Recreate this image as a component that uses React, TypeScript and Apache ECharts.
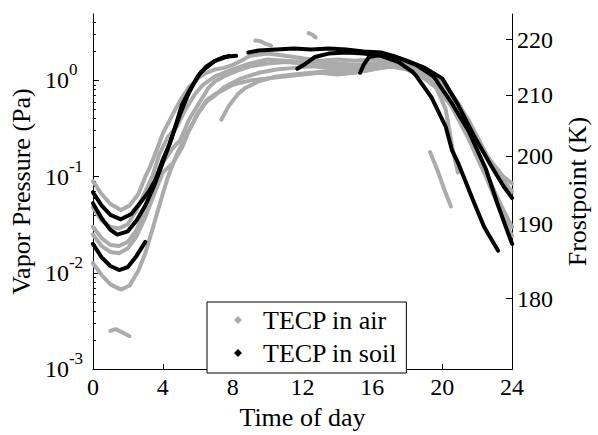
import React, { useEffect, useRef } from "react";
import * as echarts from "echarts";

type Pt = [number, number];

// ---- axes / tick labels ----
const hourMin = 0;
const hourMax = 24;
const hourStep = 4;
const pressureMin = 0.001;
const pressureMax = 4.9;
const pressureTicks = [0.001, 0.01, 0.1, 1];
const minorMultipliers = [2, 3, 4, 5, 6, 7, 8, 9];
const minorDecades = [0.001, 0.01, 0.1, 1];
const frostTicks = [180, 190, 200, 210, 220];

const airName = "TECP in air";
const soilName = "TECP in soil";

// ---- TECP in air (grey), [hour, Pa] ----
const air1: Pt[] = [
  [0, 0.09], [0.5, 0.066], [1, 0.052], [1.6, 0.045], [2.1, 0.05], [2.6, 0.066], [3, 0.1], [3.3, 0.13],
  [3.7, 0.2], [4, 0.28], [4.5, 0.42], [5, 0.62], [5.5, 0.85], [6, 1.05], [6.5, 1.2], [7, 1.3], [7.5, 1.35],
  [8, 1.45], [8.5, 1.6], [9, 1.8], [10, 1.9], [11, 1.8], [12, 1.7], [13, 1.6], [14, 1.5], [15, 1.45],
  [16, 1.5], [17, 1.55], [17.6, 1.5], [18.3, 1.35], [19, 1.15], [20, 0.98], [20.8, 0.6], [21.5, 0.39],
  [22.6, 0.16], [23.5, 0.1], [24, 0.085],
];
const air2: Pt[] = [
  [0, 0.03], [0.5, 0.023], [1, 0.0195], [1.5, 0.019], [2, 0.021], [2.5, 0.028], [3, 0.045], [3.5, 0.08],
  [4, 0.14], [4.6, 0.2], [5, 0.24], [5.5, 0.39], [6, 0.55], [6.6, 0.83], [7, 0.98], [7.5, 1.1], [8.2, 1.25],
  [9, 1.4], [10, 1.5], [11, 1.55], [12, 1.5], [13, 1.6], [14, 1.65], [15, 1.6], [16, 1.65], [17, 1.7],
  [18, 1.55], [18.8, 1.25], [19.6, 0.89], [20.2, 0.5], [20.6, 0.19], [20.9, 0.11],
];
const air3: Pt[] = [
  [0, 0.025], [0.5, 0.019], [1, 0.0165], [1.5, 0.016], [2, 0.018], [2.5, 0.024], [3, 0.038], [3.5, 0.065],
  [4, 0.11], [4.6, 0.14], [5.1, 0.2], [5.5, 0.3], [6, 0.45], [6.5, 0.62], [7, 0.72], [7.5, 0.8], [8, 0.9],
  [9, 1.0], [10, 1.05], [11, 1.1], [12, 1.15], [13, 1.2], [14, 1.15], [15, 1.2], [16, 1.3], [17, 1.4],
  [18, 1.3], [19, 1.05], [20, 0.75], [21, 0.4], [22, 0.18], [23, 0.07], [23.5, 0.045], [24, 0.03],
];
const air4: Pt[] = [
  [0, 0.0126], [0.5, 0.0095], [1, 0.0076], [1.6, 0.0067], [2.1, 0.0074], [2.6, 0.0105], [3, 0.016],
  [3.4, 0.028], [3.8, 0.05], [4.3, 0.1], [4.8, 0.17], [5.3, 0.26], [6, 0.45], [6.5, 0.6], [7, 0.7],
  [7.5, 0.85], [8.5, 1.05], [9.5, 1.2], [10.5, 1.3], [11.5, 1.35], [12.5, 1.4], [13.5, 1.35], [14.5, 1.3],
  [15.5, 1.35], [16.5, 1.45], [17.5, 1.5], [18.3, 1.35], [19, 1.15],
];
const air5: Pt[] = [
  [7.35, 0.39], [7.8, 0.55], [8.3, 0.72], [8.7, 0.83], [9.5, 0.98], [10.5, 1.1], [11.5, 1.15], [12.5, 1.2],
  [13.5, 1.25], [14.5, 1.2], [15.5, 1.25], [16.5, 1.35], [17.5, 1.4], [18.5, 1.2], [19.5, 0.9], [20.5, 0.55],
  [21.5, 0.25], [22.5, 0.1], [23.3, 0.045], [24, 0.024],
];
const air6: Pt[] = [
  [0, 0.048], [0.5, 0.035], [1, 0.03], [1.5, 0.029], [2, 0.032], [2.5, 0.045], [3, 0.07], [3.4, 0.1],
  [3.8, 0.17], [4.3, 0.26], [4.8, 0.33], [5.3, 0.5], [5.8, 0.7], [6.3, 0.9], [7, 1.1], [8, 1.3], [9, 1.5],
  [10, 1.65], [11, 1.6], [12, 1.55], [13, 1.5], [14, 1.4], [15, 1.35], [16, 1.45], [17, 1.6], [17.8, 1.55],
  [18.5, 1.4], [19.3, 1.25], [20, 1.0], [21, 0.55], [22, 0.25], [23, 0.12], [24, 0.07],
];
const air7: Pt[] = [[1, 0.0025], [1.3, 0.0026], [1.7, 0.0024], [2.1, 0.0022]];
const air8: Pt[] = [[19.3, 0.18], [19.7, 0.12], [20.1, 0.075], [20.5, 0.049]];
const air9: Pt[] = [[9.3, 2.6], [9.6, 2.55], [9.9, 2.4], [10.2, 2.3]];
const air10: Pt[] = [[12.35, 3.1], [12.55, 3.0], [12.75, 2.8]];

// ---- TECP in soil (black), [hour, Pa] ----
const soil1a: Pt[] = [
  [0, 0.069], [0.5, 0.05], [1, 0.04], [1.6, 0.036], [2.2, 0.041], [2.8, 0.056], [3.2, 0.07], [3.56, 0.091],
  [4, 0.15], [4.4, 0.22], [4.8, 0.37], [5.1, 0.56], [5.6, 0.83], [6.2, 1.23], [7, 1.6], [7.5, 1.75], [8.2, 1.8],
];
const soil1b: Pt[] = [
  [8.9, 1.95], [9.5, 2.05], [10.5, 2.1], [11.5, 2.15], [12.5, 2.1], [13.5, 2.15], [14.5, 2.1], [15.5, 2.0],
  [16.5, 1.95], [17.2, 1.8], [18, 1.6], [19, 1.35], [20, 1.05], [20.9, 0.56], [21.8, 0.27], [22.8, 0.13],
  [23.5, 0.08], [24, 0.06],
];
const soil2a: Pt[] = [
  [0, 0.053], [0.5, 0.037], [1, 0.028], [1.4, 0.025], [2, 0.027], [2.5, 0.035], [3, 0.05], [3.5, 0.08],
  [4, 0.14], [4.5, 0.25], [5, 0.45], [5.5, 0.75], [6, 1.1], [6.5, 1.4], [7, 1.6], [7.8, 1.8],
];
const soil2b: Pt[] = [
  [11.7, 1.32], [12.2, 1.5], [12.7, 1.75], [13.5, 1.9], [14.5, 1.95], [15.5, 1.9], [16.5, 1.8], [17.5, 1.55],
  [18.3, 1.23], [18.5, 1.12], [19.4, 0.66], [20.2, 0.33], [20.55, 0.19], [20.9, 0.14], [21.8, 0.055],
  [22.4, 0.03], [23.2, 0.017],
];
const soil3: Pt[] = [
  [0, 0.02], [0.5, 0.0145], [1, 0.0118], [1.5, 0.0107], [2, 0.0115], [2.5, 0.015], [3, 0.021],
];
const soil4: Pt[] = [
  [15.3, 1.2], [15.5, 1.45], [15.8, 1.75], [16.5, 1.85], [17.5, 1.7], [18.5, 1.45], [19.5, 1.1], [20.5, 0.6],
  [21.5, 0.3], [22.5, 0.12], [23.2, 0.05], [23.7, 0.028], [24, 0.02],
];

const airCurves = [air1, air2, air3, air4, air5, air6, air7, air8, air9, air10];
const soilCurves = [soil1a, soil1b, soil2a, soil2b, soil3, soil4];

const FONT = "Liberation Serif";
const GREY = "#ababab";
const BLACK = "#000000";

// saturation vapour pressure over ice (Murphy & Koop 2005), Pa — used to place frostpoint ticks
function icePressure(T: number): number {
  return Math.exp(9.550426 - 5723.265 / T + 3.53068 * Math.log(T) - 0.00728332 * T);
}

export default function App() {
  const ref = useRef<HTMLDivElement>(null);
  useEffect(() => {
    document.body.style.margin = "0";
    if (!ref.current) return;
    const chart = echarts.init(ref.current, undefined, { renderer: "svg" });
    const minorTicks: number[] = [];
    minorDecades.forEach((d) =>
      minorMultipliers.forEach((m) => {
        const v = m * d;
        if (v <= pressureMax) minorTicks.push(v);
      })
    );
    const frostPressures = frostTicks.map((t) => icePressure(t));
    const frostLabel = (v: number) => {
      let best = 0;
      let bestD = Infinity;
      frostPressures.forEach((p, i) => {
        const d = Math.abs(Math.log(p) - Math.log(v));
        if (d < bestD) {
          bestD = d;
          best = i;
        }
      });
      return String(frostTicks[best]);
    };

    const mkSeries = (name: string, color: string, curves: Pt[][], width: number) =>
      curves.map((c) => ({
        name,
        type: "line",
        xAxisIndex: 0,
        yAxisIndex: 0,
        data: c,
        symbol: "none",
        color,
        itemStyle: { color },
        lineStyle: { color, width, cap: "round", join: "round" },
        silent: true,
      }));

    const txt = { fontFamily: FONT, color: "#000" };

    chart.setOption({
      animation: false,
      grid: { left: 91, right: 76, top: 14, bottom: 56 },
      legend: {
        left: 207,
        top: 302,
        orient: "vertical",
        padding: [5, 9, 7, 27],
        itemWidth: 8,
        itemHeight: 8,
        itemGap: 7,
        icon: "diamond",
        borderColor: "#000",
        borderWidth: 1,
        borderRadius: 0,
        backgroundColor: "#ffffff",
        textStyle: { ...txt, fontSize: 26, lineHeight: 26, padding: [0, 0, 0, 16] },
        data: [airName, soilName],
      },
      xAxis: {
        type: "value",
        min: hourMin,
        max: hourMax,
        interval: hourStep,
        axisLine: { show: true, lineStyle: { color: "#000", width: 1 } },
        axisTick: { show: true, inside: true, length: 5, lineStyle: { color: "#000" } },
        axisLabel: { ...txt, fontSize: 24, margin: 6 },
        splitLine: { show: false },
        name: "Time of day",
        nameLocation: "middle",
        nameGap: 30,
        nameTextStyle: { ...txt, fontSize: 26 },
      },
      yAxis: [
        {
          type: "log",
          logBase: 10,
          min: pressureMin,
          max: pressureMax,
          position: "left",
          axisLine: { show: true, lineStyle: { color: "#000", width: 1 } },
          axisTick: { show: true, inside: true, length: 6, customValues: pressureTicks, lineStyle: { color: "#000" } },
          axisLabel: {
            ...txt,
            fontSize: 24,
            customValues: pressureTicks,
            margin: 48,
            align: "left",
            formatter: (v: number) => "{b|10}{s|" + Math.round(Math.log10(v)) + "}",
            rich: {
              b: { ...txt, fontSize: 24, lineHeight: 38 },
              s: { ...txt, fontSize: 17, lineHeight: 16, verticalAlign: "top" },
            },
          },
          splitLine: { show: false },
          name: "Vapor Pressure (Pa)",
          nameLocation: "middle",
          nameRotate: 90,
          nameGap: 57,
          nameTextStyle: { ...txt, fontSize: 26 },
        },
        {
          type: "log",
          logBase: 10,
          min: pressureMin,
          max: pressureMax,
          position: "left",
          axisLine: { show: false },
          axisTick: { show: true, inside: true, length: 3, customValues: minorTicks, lineStyle: { color: "#000" } },
          axisLabel: { show: false },
          splitLine: { show: false },
        },
        {
          type: "log",
          logBase: 10,
          min: pressureMin,
          max: pressureMax,
          position: "right",
          axisLine: { show: true, lineStyle: { color: "#000", width: 1 } },
          axisTick: { show: true, inside: true, length: 6, customValues: frostPressures, lineStyle: { color: "#000" } },
          axisLabel: {
            ...txt,
            customValues: frostPressures,
            margin: 5,
            fontSize: 24,
            formatter: (v: number) => frostLabel(v),
          },
          splitLine: { show: false },
          name: "Frostpoint (K)",
          nameLocation: "middle",
          nameRotate: 90,
          nameGap: 50,
          nameTextStyle: { ...txt, fontSize: 26 },
        },
      ],
      series: [...mkSeries(airName, GREY, airCurves, 4), ...mkSeries(soilName, BLACK, soilCurves, 4)],
    });
    return () => chart.dispose();
  }, []);
  return <div ref={ref} style={{ width: 598, height: 435 }} />;
}
